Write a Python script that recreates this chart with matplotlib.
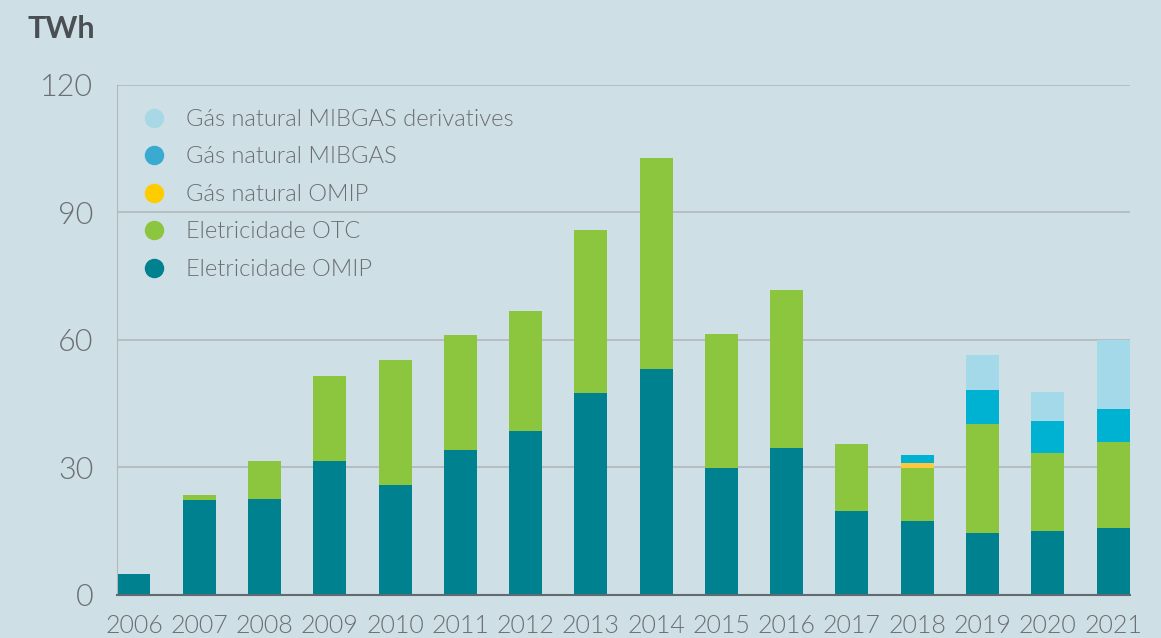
import matplotlib.pyplot as plt
import numpy as np
from matplotlib.lines import Line2D

plt.rcParams['font.family'] = ['Lato', 'DejaVu Sans']

years = ['2006', '2007', '2008', '2009', '2010', '2011', '2012', '2013',
         '2014', '2015', '2016', '2017', '2018', '2019', '2020', '2021']

# TWh por segmento
elec_omip = [5.0, 22.4, 22.6, 31.5, 25.9, 34.1, 38.6, 47.5,
             53.2, 29.9, 34.6, 19.8, 17.4, 14.6, 15.1, 15.8]
elec_otc = [0.0, 1.1, 8.9, 20.0, 29.4, 27.1, 28.2, 38.4,
            49.6, 31.5, 37.2, 15.7, 12.5, 25.6, 18.3, 20.2]
gas_omip = [0, 0, 0, 0, 0, 0, 0, 0, 0, 0, 0, 0, 1.2, 0, 0, 0]
gas_mibgas = [0, 0, 0, 0, 0, 0, 0, 0, 0, 0, 0, 0, 1.8, 8.0, 7.5, 7.8]
gas_mibgas_deriv = [0, 0, 0, 0, 0, 0, 0, 0, 0, 0, 0, 0, 0, 8.3, 6.9, 16.2]

series = [
    ('Eletricidade OMIP', elec_omip, '#00818f', '#00818f'),
    ('Eletricidade OTC', elec_otc, '#8cc63f', '#8cc63f'),
    ('Gás natural OMIP', gas_omip, '#ffc83d', '#ffcc00'),
    ('Gás natural MIBGAS', gas_mibgas, '#00b2d1', '#3aaad0'),
    ('Gás natural MIBGAS derivatives', gas_mibgas_deriv, '#a3d9e8', '#a8d8e6'),
]

bg = '#cfdfe6'
txt = '#6b6f72'

fig = plt.figure(figsize=(11.61, 6.38), dpi=100, facecolor=bg)
ax = fig.add_axes([0.1008, 0.0674, 0.8725, 0.7994], facecolor=bg)

x = np.arange(len(years))
bottom = np.zeros(len(years))
for name, vals, col, _ in series:
    v = np.array(vals)
    ax.bar(x, v, width=0.505, bottom=bottom, color=col, zorder=3)
    bottom += v

ax.set_ylim(0, 120)
ax.set_xlim(-0.26, 15.26)
ax.set_yticks([0, 30, 60, 90, 120])
ax.set_xticks(x)
ax.set_xticklabels(years)
ax.yaxis.grid(True, color='#b3b8bb', linewidth=1.2, zorder=0)
ax.tick_params(length=0)
ax.tick_params(axis='y', labelsize=22, labelcolor=txt, pad=17)
ax.tick_params(axis='x', labelsize=18, labelcolor=txt, pad=14)
for lab in ax.get_yticklabels() + ax.get_xticklabels():
    lab.set_fontweight(300)

for s in ['top', 'right']:
    ax.spines[s].set_visible(False)
ax.spines['left'].set_color('#b3b8bb')
ax.spines['bottom'].set_color('#5f6b70')
ax.spines['bottom'].set_linewidth(1.5)
ax.spines['bottom'].set_zorder(4)

handles = [Line2D([], [], marker='o', linestyle='', markersize=13,
                  color=lc) for _, _, _, lc in series[::-1]]
labels = [name for name, _, _, _ in series[::-1]]
leg = ax.legend(handles, labels, loc='upper left', bbox_to_anchor=(0.002, 0.995),
                frameon=False, fontsize=17, labelspacing=0.7,
                handletextpad=0.75, handlelength=1.2)
for t in leg.get_texts():
    t.set_color(txt)
    t.set_fontweight(300)

fig.text(0.024, 0.955, 'TWh', fontsize=22, fontweight='bold',
         color='#4a4f54', va='center', ha='left')

fig.savefig('out.png', dpi=100, facecolor=bg)
